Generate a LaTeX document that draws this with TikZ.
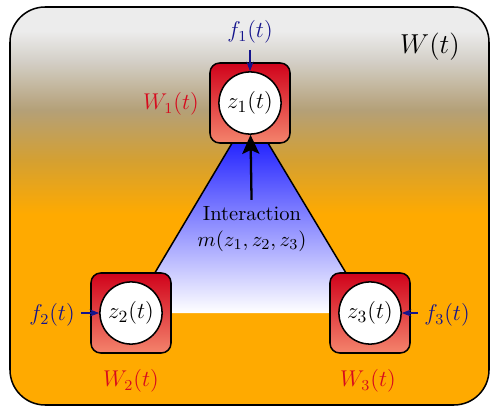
\documentclass[tikz,border=0pt]{standalone}
\usepackage{xcolor}
\usepackage{tikz}
\usetikzlibrary{positioning, arrows.meta, calc}

\definecolor{bgorange}{RGB}{255,170,0}
\definecolor{bgB}{RGB}{212,160,50}
\definecolor{bgC}{RGB}{180,160,120}
\definecolor{bgD}{RGB}{212,208,200}
\definecolor{bgE}{RGB}{236,236,236}
\definecolor{boxred}{RGB}{208,2,27}
\definecolor{boxlow}{RGB}{244,132,108}
\definecolor{wred}{RGB}{215,10,30}
\definecolor{fnavy}{RGB}{20,20,140}

\pgfdeclareverticalshading{bgshade}{100bp}{color(0bp)=(bgorange); color(49bp)=(bgorange);
  color(55.8bp)=(bgB); color(62.1bp)=(bgC); color(68.3bp)=(bgD);
  color(72bp)=(bgE); color(100bp)=(bgE)}

\tikzset{
  agentbox/.style={draw, thick, rounded corners=0.18cm, minimum size=1.48cm,
    top color=boxred, middle color=boxred, bottom color=boxlow},
  agent/.style={draw, thick, circle, fill=white, inner sep=0pt, minimum size=1.15cm,
    font=\fontsize{13}{15}\selectfont},
  wlabel/.style={text=wred, font=\large},
  flabel/.style={text=fnavy, font=\fontsize{11.5}{13}\selectfont},
  farrow/.style={fnavy, semithick, -{Stealth[length=5pt]}}
}

\begin{document}
\begin{tikzpicture}[x=0.925cm, y=0.925cm]
    \useasboundingbox (0,0) rectangle (9.98,8.24);

    % Environment
    \shadedraw[shading=bgshade, thick, rounded corners=0.65cm] (0.2,0.14) rectangle (9.78,8.10);
    \node[font=\Large] (W) at (8.6,7.3) {$W(t)$};

    % Positions of the three agents
    \coordinate (c1) at (5.0,6.18);
    \coordinate (c2) at (2.62,1.98);
    \coordinate (c3) at (7.40,1.98);
    \coordinate (apex) at (5.0,5.98);

    % Interaction triangle (no line along the base)
    \shade[top color=blue, bottom color=white] (apex) -- (c2) -- (c3) -- cycle;
    \draw[thick] (c2) -- (apex) -- (c3);

    % Agents
    \node[agentbox] (sq1) at (c1) {};
    \node[agentbox] (sq2) at (c2) {};
    \node[agentbox] (sq3) at (c3) {};
    \node[agent] (z1) at (c1) {$z_1(t)$};
    \node[agent] (z2) at (c2) {$z_2(t)$};
    \node[agent] (z3) at (c3) {$z_3(t)$};

    % Their own states
    \node[wlabel] (W1) at (3.42,6.16) {$W_1(t)$};
    \node[wlabel] (W2) at (2.62,0.62) {$W_2(t)$};
    \node[wlabel] (W3) at (7.36,0.62) {$W_3(t)$};

    % External inputs
    \node[flabel] (f1) at (5.0,7.6) {$f_1(t)$};
    \node[flabel] (f2) at (1.04,1.94) {$f_2(t)$};
    \node[flabel] (f3) at (8.94,1.94) {$f_3(t)$};
    \draw[farrow] (f1) -- (z1);
    \draw[farrow] (f2.east |- z2) -- (z2);
    \draw[farrow] (f3.west |- z3) -- (z3);

    % Interaction term
    \node[align=center, font=\fontsize{10.8}{13.5}\selectfont] (inter) at (5.04,3.66)
        {Interaction\\$m(z_1,z_2,z_3)$};
    \draw[line width=1.2pt, -{Stealth[length=10pt, width=9pt, inset=2pt]}] (inter) -- (z1);
\end{tikzpicture}
\end{document}
